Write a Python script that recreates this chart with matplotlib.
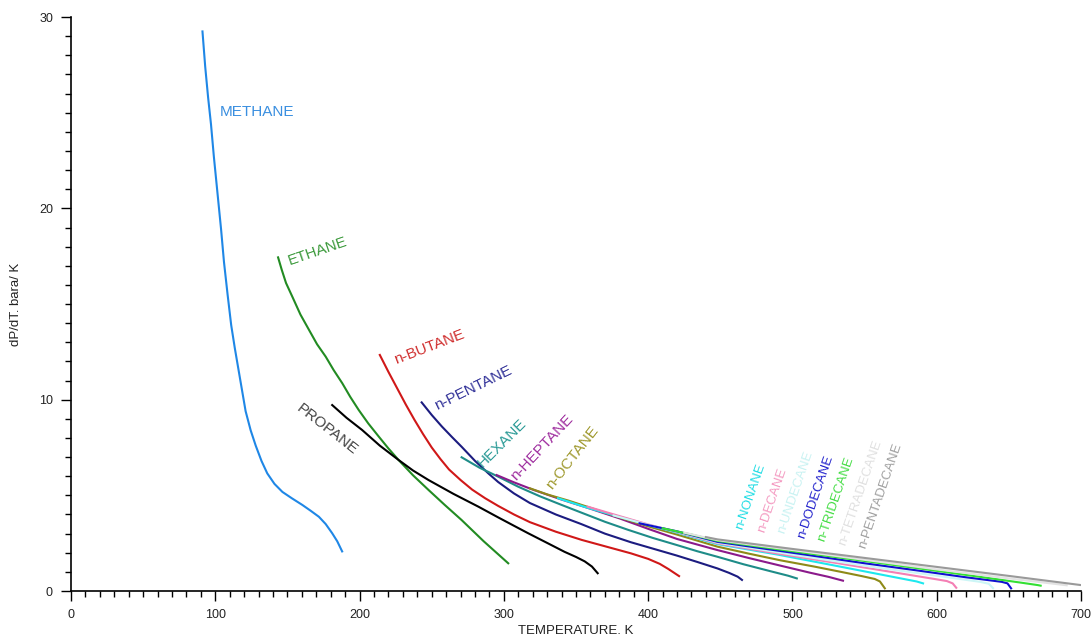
import matplotlib
matplotlib.use('Agg')
import matplotlib.pyplot as plt
from matplotlib.ticker import MultipleLocator

plt.rcParams['font.family'] = ['Liberation Sans', 'DejaVu Sans']

# dP/dT (bara/K) vs temperature (K)
methane_T = [91.1, 93, 95, 97, 99, 101.5, 104, 106, 108.5, 111, 113.5, 116, 118.5, 121,
             124.5, 128, 132, 136, 141, 146.5, 153, 160.3, 166, 171.8, 176.5, 181, 184.5, 187.9]
methane_y = [29.25, 27.4, 25.8, 24.4, 22.7, 20.8, 18.9, 17.2, 15.5, 13.9, 12.7, 11.6, 10.5, 9.4,
             8.4, 7.6, 6.8, 6.15, 5.6, 5.18, 4.85, 4.5, 4.2, 3.88, 3.5, 3.02, 2.6, 2.07]

ethane_T = [143.5, 146, 149, 153.4, 159, 165, 170.5, 176.5, 182, 188, 193.5, 199.4, 206,
            213.3, 220, 227, 237, 247.8, 259, 270.7, 286, 303]
ethane_y = [17.44, 16.8, 16.1, 15.38, 14.45, 13.64, 12.9, 12.25, 11.55, 10.86, 10.15, 9.46, 8.76,
            8.07, 7.45, 6.85, 6.05, 5.28, 4.5, 3.71, 2.6, 1.45]

propane_T = [181, 191, 201.7, 214, 227, 237, 247.8, 265, 282.3, 296, 306, 316.8, 330.6,
             342, 350, 356, 361, 365]
propane_y = [9.72, 9.05, 8.42, 7.6, 6.85, 6.3, 5.8, 5.08, 4.41, 3.85, 3.45, 3.02, 2.49,
             2.05, 1.78, 1.55, 1.28, 0.93]

butane_T = [214, 220, 226, 232, 238, 244, 250, 256, 262, 270, 278, 287, 296, 307, 318,
            336, 354, 371, 388, 400, 408, 414, 418, 421.4]
butane_y = [12.34, 11.45, 10.6, 9.75, 8.95, 8.2, 7.5, 6.9, 6.35, 5.8, 5.3, 4.85, 4.45, 4.0, 3.6,
            3.1, 2.67, 2.32, 1.97, 1.68, 1.42, 1.15, 0.95, 0.78]

pentane_T = [243, 250, 257, 264, 270.7, 280, 289.2, 296, 307, 318, 336, 353.6, 370, 388,
             404, 420, 434, 448, 456, 462, 465]
pentane_y = [9.86, 9.2, 8.6, 8.05, 7.54, 6.8, 6.15, 5.7, 5.1, 4.6, 4.0, 3.5, 3.0, 2.55,
             2.2, 1.85, 1.52, 1.18, 0.95, 0.75, 0.58]

hexane_T = [270.7, 283, 296, 310, 325, 340, 353.6, 370, 386, 403, 420, 434, 448, 466, 485, 497, 503]
hexane_y = [6.99, 6.45, 5.98, 5.45, 4.95, 4.5, 4.1, 3.62, 3.2, 2.78, 2.4, 2.08, 1.79, 1.4, 1.03, 0.8, 0.66]

heptane_T = [295, 307, 320, 340, 360, 380, 400, 420, 448, 470, 492, 512, 525, 535]
heptane_y = [6.06, 5.68, 5.3, 4.78, 4.3, 3.8, 3.25, 2.72, 2.14, 1.72, 1.32, 0.96, 0.74, 0.54]

octane_T = [318, 330, 345, 360, 380, 400, 420, 448, 470, 492, 515, 535, 548, 557, 560.6, 562.5, 564]
octane_y = [5.37, 5.05, 4.72, 4.35, 3.85, 3.38, 2.95, 2.32, 1.95, 1.6, 1.28, 0.98, 0.78, 0.63,
            0.5, 0.3, 0.14]

nonane_T = [337.5, 358, 380, 400, 420, 448, 490, 530, 560, 586, 590.5]
nonane_y = [4.85, 4.35, 3.88, 3.45, 3.05, 2.45, 1.9, 1.32, 0.88, 0.5, 0.40]

decane_T = [358, 380, 400, 420, 448, 490, 530, 570, 600, 607, 611, 613.5]
decane_y = [4.41, 3.92, 3.48, 3.08, 2.49, 1.95, 1.47, 0.98, 0.61, 0.52, 0.4, 0.17]

undecane_T = [376, 398, 420, 448, 500, 550, 600, 630, 636, 639]
undecane_y = [3.95, 3.5, 3.1, 2.53, 1.9, 1.32, 0.8, 0.48, 0.38, 0.15]

dodecane_T = [394, 420, 448, 500, 550, 586, 620, 645, 649, 651.5]
dodecane_y = [3.54, 3.12, 2.57, 2.0, 1.45, 1.08, 0.72, 0.48, 0.4, 0.14]

tridecane_T = [410, 430, 448, 500, 550, 586, 630, 660, 670, 672]
tridecane_y = [3.28, 2.95, 2.62, 2.08, 1.57, 1.2, 0.74, 0.42, 0.31, 0.28]

tetradecane_T = [425, 448, 500, 550, 600, 650, 690]
tetradecane_y = [3.05, 2.66, 2.14, 1.63, 1.13, 0.66, 0.3]

pentadecane_T = [440, 448, 500, 550, 600, 650, 700]
pentadecane_y = [2.82, 2.70, 2.2, 1.73, 1.26, 0.79, 0.31]

fig = plt.figure(figsize=(10.91, 6.42), dpi=100)
ax = fig.add_axes([0.0651, 0.0794, 0.9258, 0.894])

series = [
    (methane_T, methane_y, '#1f87e6'),
    (ethane_T, ethane_y, '#228b22'),
    (propane_T, propane_y, '#000000'),
    (butane_T, butane_y, '#d01818'),
    (pentane_T, pentane_y, '#1c1c80'),
    (hexane_T, hexane_y, '#1e8c88'),
    (heptane_T, heptane_y, '#8b1a8b'),
    (octane_T, octane_y, '#8e8a18'),
    (nonane_T, nonane_y, '#1ee8ee'),
    (decane_T, decane_y, '#f47fb4'),
    (undecane_T, undecane_y, '#ccf6f6'),
    (dodecane_T, dodecane_y, '#1010d0'),
    (tridecane_T, tridecane_y, '#33e033'),
    (tetradecane_T, tetradecane_y, '#e2e2e2'),
    (pentadecane_T, pentadecane_y, '#9a9a9a'),
]
for T, y, c in series:
    ax.plot(T, y, color=c, lw=1.5, solid_joinstyle='round')

# curve labels
ax.text(102.8, 25.04, 'METHANE', color='#3a8fe0', fontsize=11, va='center', ha='left')
big = [
    ('ETHANE', 152.3, 16.87, 19, '#3c9a3c'),
    ('n-BUTANE', 225.7, 11.71, 21, '#d03030'),
    ('n-PENTANE', 254.7, 9.30, 26, '#333399'),
    ('HEXANE', 287.1, 6.33, 45, '#2a9a96'),
    ('n-HEPTANE', 309.9, 5.65, 47, '#a030a0'),
    ('n-OCTANE', 334.7, 5.18, 52, '#a09a30'),
]
for txt, x, y, rot, c in big:
    ax.text(x, y, txt, color=c, fontsize=11, rotation=rot, rotation_mode='anchor',
            ha='left', va='bottom')
ax.text(160.1, 9.93, 'PROPANE', color='#444444', fontsize=11, rotation=-38,
        rotation_mode='anchor', ha='left', va='top')

small = [
    ('n-NONANE', 467.4, 3.15, '#22dde4'),
    ('n-DECANE', 482.4, 3.0, '#f49ac1'),
    ('n-UNDECANE', 496.2, 2.93, '#c8f2f2'),
    ('n-DODECANE', 510.0, 2.67, '#2222cc'),
    ('n-TRIDECANE', 523.8, 2.49, '#44dd44'),
    ('n-TETRADECANE', 538.8, 2.32, '#e0e0e0'),
    ('n-PENTADECANE', 552.6, 2.14, '#a0a0a0'),
]
for txt, x, y, c in small:
    ax.text(x, y, txt, color=c, fontsize=9.5, rotation=71, rotation_mode='anchor',
            ha='left', va='bottom')

ax.set_xlim(0, 700)
ax.set_ylim(0, 30)
ax.spines['top'].set_visible(False)
ax.spines['right'].set_visible(False)
for s in ('left', 'bottom'):
    ax.spines[s].set_linewidth(1.2)
ax.xaxis.set_major_locator(MultipleLocator(100))
ax.xaxis.set_minor_locator(MultipleLocator(10))
ax.yaxis.set_major_locator(MultipleLocator(10))
ax.yaxis.set_minor_locator(MultipleLocator(1))
ax.tick_params(which='major', direction='out', length=7, width=1, labelsize=9,
               labelcolor='#222222', pad=6)
ax.tick_params(which='minor', direction='out', length=4, width=1)

ax.set_xlabel('TEMPERATURE. K', fontsize=9.5, color='#222222', labelpad=3)
ax.set_ylabel('dP/dT. bara/ K', fontsize=9.5, color='#222222', labelpad=12)

fig.savefig('out.png', dpi=100)
